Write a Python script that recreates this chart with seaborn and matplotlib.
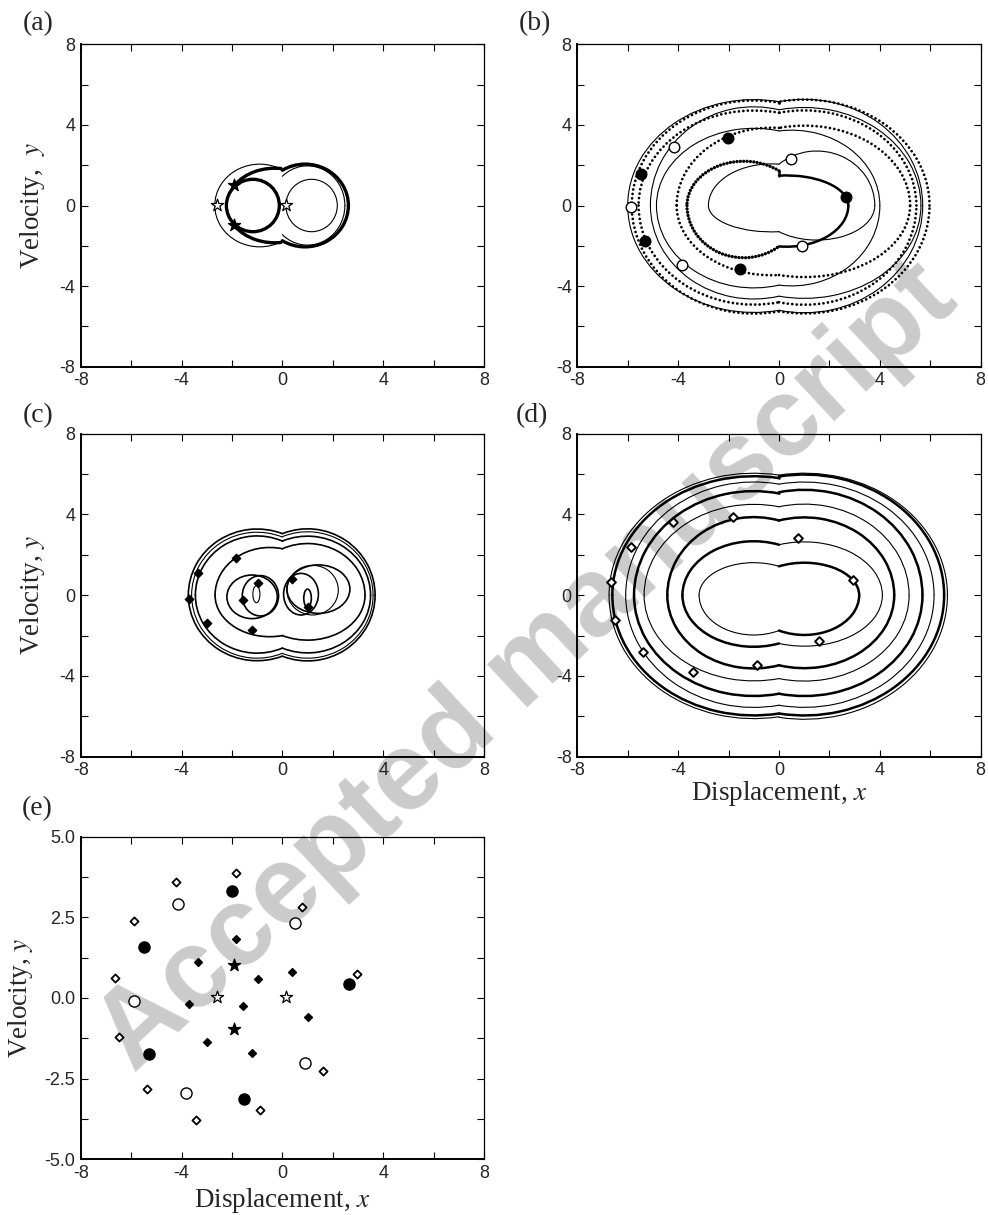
import numpy as np
import matplotlib
matplotlib.use("Agg")
import matplotlib.pyplot as plt
from matplotlib.patches import Arc, Ellipse
from matplotlib.ticker import MultipleLocator, FormatStrFormatter
import seaborn as sns

# ---------------- data ----------------
# a "lobe" is the half of an orbit on one side of x = 0:
# (centre x, extreme x, height where it meets x = 0 on top, depth where it meets x = 0 below)
# orbits are given as (left lobe, right lobe)

# (a) period orbit
a_ellipses = [(-1.17, 0.0, 1.05, 1.30), (1.16, 0.0, 1.02, 1.30)]   # cx, cy, rx, ry
a_ellipse_kind = ["thick", "thin"]
a_lobes = [(-0.9, -2.68, 1.77, 1.77), (0.9, 2.62, 1.75, 1.75), (1.0, 2.48, 1.45, 1.45)]
a_lobe_kind = ["thin", "thick", "thin"]
a_arcs = [(-0.3, 1.9, 1.85, 81, 148), (-0.3, 1.9, 1.85, 212, 279)]  # cx, rx, ry, theta1, theta2
a_arc_kind = ["thick", "thick"]

# (b) transient trajectories
b_orbits = [((-0.3, -2.8, 2.05, 1.3), (1.5, 3.8, 2.05, 1.3)),
            ((-1.0, -4.86, 3.7, 3.95), (0.5, 4.0, 3.7, 3.95)),
            ((-1.0, -5.1, 4.75, 4.5), (1.0, 5.63, 4.75, 4.5)),
            ((-1.0, -6.0, 5.15, 5.2), (1.0, 5.7, 5.15, 5.2)),
            ((-0.3, -4.06, 3.85, 3.45), (1.0, 5.2, 3.85, 3.45)),
            ((-1.0, -5.57, 4.6, 4.8), (1.0, 5.45, 4.6, 4.8)),
            ((-1.0, -5.84, 5.1, 5.25), (1.0, 5.97, 5.15, 5.25)),
            ((-1.4, -3.65, 1.72, 2.03), (0.3, 2.75, 1.48, 2.03))]
b_orbit_kind = [("thin", "thin")] * 4 + [("dots", "dots")] * 3 + [("heavydots", "thick")]

# (c) transient trajectories
c_ellipses = [(-1.2, -0.08, 1.0, 1.08), (-0.87, -0.03, 0.72, 1.0), (-1.03, 0.05, 0.14, 0.42),
              (1.2, 0.25, 1.02, 1.23), (0.74, 0.05, 0.69, 1.03), (1.0, -0.15, 0.15, 0.45),
              (1.43, 0.3, 1.25, 1.2)]
c_ellipse_kind = ["mid", "mid", "thin", "thin", "mid", "mid", "mid"]
c_orbits = [((-1.0, -3.73, 3.05, 3.02), (1.0, 3.68, 3.05, 3.02)),
            ((-1.0, -3.6, 2.88, 2.88), (1.0, 3.6, 2.9, 2.88)),
            ((-1.0, -3.45, 2.68, 2.62), (1.0, 3.5, 2.68, 2.62)),
            ((-0.5, -2.67, 2.3, 2.0), (1.0, 3.28, 2.3, 2.0))]
c_orbit_kind = [("mid", "mid"), ("thin", "thin"), ("mid", "mid"), ("mid", "mid")]

# (d) transient trajectories
d_orbits = [((-1.0, -3.17, 1.43, 1.75), (1.0, 3.18, 1.43, 1.75)),
            ((-1.0, -3.83, 2.5, 2.39), (1.0, 4.10, 2.5, 2.39)),
            ((-1.0, -4.43, 3.7, 3.47), (1.0, 4.57, 3.7, 3.47)),
            ((-1.0, -5.35, 4.38, 4.13), (1.0, 5.16, 4.38, 4.13)),
            ((-1.0, -5.75, 5.04, 4.88), (1.0, 5.69, 5.1, 4.88)),
            ((-1.0, -6.08, 5.5, 5.45), (1.0, 6.15, 5.5, 5.45)),
            ((-1.0, -6.61, 5.8, 5.86), (1.0, 6.55, 5.88, 5.86)),
            ((-1.0, -6.74, 5.95, 6.02), (1.0, 6.68, 5.95, 6.05))]
d_orbit_kind = [("thin", "thick"), ("thick", "thin"), ("thick", "thick"), ("thin", "thin"),
                ("thick", "thick"), ("thin", "thin"), ("thick", "thick"), ("thin", "thin")]

# Poincare points (shared by the panels and by (e))
star_open_x = [-2.6, 0.15]
star_open_y = [0.02, 0.02]
star_fill_x = [-1.92, -1.92]
star_fill_y = [1.02, -0.97]

circ_fill_x = [-2.01, -5.49, 2.65, -5.30, -1.54]
circ_fill_y = [3.33, 1.58, 0.43, -1.74, -3.14]
circ_open_x = [-4.15, 0.49, -5.88, 0.90, -3.83]
circ_open_y = [2.90, 2.33, -0.09, -2.02, -2.93]

dia_fill_x = [-1.84, -3.33, 0.39, -0.98, -3.70, -1.57, 1.03, -3.00, -1.19]
dia_fill_y = [1.83, 1.12, 0.82, 0.59, -0.18, -0.25, -0.58, -1.36, -1.71]

dia_open_x = [-4.22, -1.84, -5.88, 0.77, -6.65, 2.95, -6.49, -5.38, 1.60, -3.42, -0.88]
dia_open_y = [3.61, 3.86, 2.39, 2.81, 0.63, 0.74, -1.21, -2.82, -2.25, -3.78, -3.47]

# ---------------- styling ----------------
sns.set_theme(style="ticks")
plt.rcParams["font.family"] = ["Liberation Sans", "DejaVu Sans"]
plt.rcParams["axes.unicode_minus"] = False
plt.rcParams["mathtext.fontset"] = "stix"

KIND = {
    "thin": dict(lw=0.8, ls="-"),
    "mid": dict(lw=1.2, ls="-"),
    "thick": dict(lw=1.8, ls="-"),
    "dots": dict(lw=2.0, ls=(0, (0.01, 1.6))),
    "heavydots": dict(lw=2.4, ls=(0, (0.01, 1.0))),
}
A_KIND = dict(KIND, thick=dict(lw=2.4, ls="-"))


def add_lobe(ax, lobe, style):
    cx, xext, top0, bot0 = lobe
    rx = abs(xext - cx)
    f = np.sqrt(1 - (cx / rx) ** 2)
    left = xext < cx
    for y0, upper in ((top0, True), (bot0, False)):
        edge = np.degrees(np.arctan2(y0, -cx))
        if left:
            th = (edge, 180) if upper else (180, 360 - edge)
        else:
            th = (0, edge) if upper else (360 - edge, 360)
        ax.add_patch(Arc((cx, 0), 2 * rx, 2 * y0 / f, theta1=th[0], theta2=th[1],
                         color="black", capstyle="round", **style))


def add_orbit(ax, orbit, kinds, table=KIND):
    lobe_l, lobe_r = orbit
    add_lobe(ax, lobe_l, table[kinds[0]])
    add_lobe(ax, lobe_r, table[kinds[1]])
    thin = min((table[k] for k in kinds), key=lambda s: s["lw"])
    for i, sign in ((2, 1), (3, -1)):
        if abs(lobe_l[i] - lobe_r[i]) > 0.01:
            ax.plot([0, 0], [sign * lobe_l[i], sign * lobe_r[i]], color="black",
                    lw=thin["lw"], solid_capstyle="round")


def add_ellipse(ax, e, style):
    cx, cy, rx, ry = e
    ax.add_patch(Ellipse((cx, cy), 2 * rx, 2 * ry, fill=False, edgecolor="black", **style))


def style_axes(ax, ylim=(-8, 8), ymajor=4, yminor=2, yfmt="%d"):
    ax.set_xlim(-8, 8)
    ax.set_ylim(*ylim)
    ax.set_facecolor("none")
    ax.xaxis.set_major_locator(MultipleLocator(4))
    ax.xaxis.set_minor_locator(MultipleLocator(2))
    ax.yaxis.set_major_locator(MultipleLocator(ymajor))
    ax.yaxis.set_minor_locator(MultipleLocator(yminor))
    ax.yaxis.set_major_formatter(FormatStrFormatter(yfmt))
    ax.tick_params(which="both", direction="in", top=True, right=True,
                   length=5, width=0.8, labelsize=13, pad=4, color="black")
    for s in ("left", "bottom"):
        ax.spines[s].set_linewidth(1.4)
    for s in ("top", "right"):
        ax.spines[s].set_linewidth(0.9)
    for s in ax.spines.values():
        s.set_color("black")
    ax.set_xlabel("")
    ax.set_ylabel("")


def scatter(ax, x, y, marker, s, face, lw=1.0):
    sns.scatterplot(x=x, y=y, ax=ax, marker=marker, s=s, color=face,
                    edgecolor="black", linewidth=lw, zorder=5, legend=False)


serif = "Liberation Serif"

fig = plt.figure(figsize=(9.88, 12.15), dpi=100)
W, H = 988.0, 1215.0


def axes_px(left, top, right, bottom):
    return fig.add_axes([left / W, 1 - bottom / H, (right - left) / W, (bottom - top) / H])


ax_a = axes_px(80.7, 44.3, 484.0, 366.7)
ax_b = axes_px(577.3, 44.3, 980.7, 366.7)
ax_c = axes_px(80.7, 433.7, 484.0, 756.7)
ax_d = axes_px(577.3, 433.7, 980.7, 756.7)
ax_e = axes_px(80.7, 836.7, 484.0, 1159.3)

# (a)
for e, k in zip(a_ellipses, a_ellipse_kind):
    add_ellipse(ax_a, e, A_KIND[k])
for lb, k in zip(a_lobes, a_lobe_kind):
    add_lobe(ax_a, lb, A_KIND[k])
for (cx, rx, ry, t1, t2), k in zip(a_arcs, a_arc_kind):
    ax_a.add_patch(Arc((cx, 0), 2 * rx, 2 * ry, theta1=t1, theta2=t2, color="black", **A_KIND[k]))
scatter(ax_a, star_open_x, star_open_y, "*", 85, "white", 0.9)
scatter(ax_a, star_fill_x, star_fill_y, "*", 85, "black", 0.9)

# (b)
for ob, k in zip(b_orbits, b_orbit_kind):
    add_orbit(ax_b, ob, k)
scatter(ax_b, circ_fill_x, circ_fill_y, "o", 58, "black", 1.0)
scatter(ax_b, circ_open_x, circ_open_y, "o", 58, "white", 1.0)

# (c)
for e, k in zip(c_ellipses, c_ellipse_kind):
    add_ellipse(ax_c, e, KIND[k])
for ob, k in zip(c_orbits, c_orbit_kind):
    add_orbit(ax_c, ob, k)
scatter(ax_c, dia_fill_x, dia_fill_y, "D", 18, "black", 1.0)

# (d)
for ob, k in zip(d_orbits, d_orbit_kind):
    add_orbit(ax_d, ob, k)
scatter(ax_d, dia_open_x, dia_open_y, "D", 20, "white", 1.4)

# (e)
scatter(ax_e, dia_open_x, dia_open_y, "D", 17, "white", 1.3)
scatter(ax_e, dia_fill_x, dia_fill_y, "D", 16, "black", 1.0)
scatter(ax_e, circ_fill_x, circ_fill_y, "o", 64, "black", 1.0)
scatter(ax_e, circ_open_x, circ_open_y, "o", 64, "white", 1.0)
scatter(ax_e, star_open_x, star_open_y, "*", 85, "white", 0.9)
scatter(ax_e, star_fill_x, star_fill_y, "*", 85, "black", 0.9)

for ax in (ax_a, ax_b, ax_c, ax_d):
    style_axes(ax)
style_axes(ax_e, ylim=(-5, 5), ymajor=2.5, yminor=1.25, yfmt="%.1f")

lab = dict(fontsize=19.5, family=serif)
ax_a.set_ylabel("Velocity,  $y$", **lab)
ax_a.yaxis.set_label_coords(-0.084, 0.5)
ax_c.set_ylabel("Velocity, $y$", **lab)
ax_c.yaxis.set_label_coords(-0.084, 0.5)
ax_e.set_ylabel("Velocity, $y$", **lab)
ax_e.yaxis.set_label_coords(-0.113, 0.5)
ax_d.set_xlabel("Displacement, $x$", **lab)
ax_d.xaxis.set_label_coords(0.5, -0.068)
ax_e.set_xlabel("Displacement, $x$", **lab)
ax_e.xaxis.set_label_coords(0.5, -0.084)

for txt, x, y in (("(a)", 23, 11), ("(b)", 519, 11), ("(c)", 23, 403),
                  ("(d)", 516, 403), ("(e)", 22, 796)):
    fig.text(x / W, 1 - y / H, txt, fontsize=20, family=serif, va="top", ha="left")

# watermark behind the plots
fig.text(528 / W, 1 - 668 / H, "Accepted manuscript", fontsize=80, fontweight="bold",
         color="#cbcbcb", rotation=43, ha="center", va="center",
         rotation_mode="anchor", zorder=-1)

fig.savefig("out.png", dpi=100)
